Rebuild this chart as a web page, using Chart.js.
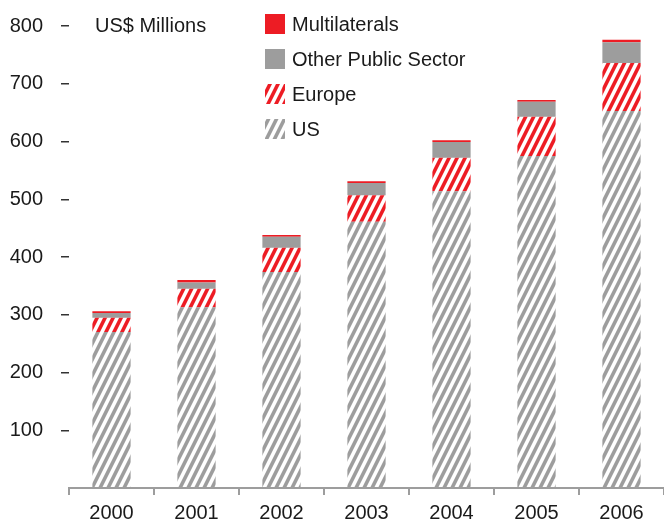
<!DOCTYPE html>
<html>
<head>
<meta charset="utf-8">
<script src="https://cdn.jsdelivr.net/npm/chart.js@4/dist/chart.umd.min.js"></script>
<style>
  html, body { margin: 0; padding: 0; background: #fff; overflow: hidden; }
  #wrap { width: 664px; height: 530px; }
</style>
</head>
<body>
<div id="wrap"><canvas id="chart" width="664" height="530"></canvas></div>
<script>
const years = ['2000', '2001', '2002', '2003', '2004', '2005', '2006'];
const us = [270, 313, 374, 461, 514, 575, 653];
const europe = [25, 32, 42, 46, 58, 68, 83];
const otherPublic = [8, 11, 19, 21, 27, 26, 36];
const multilaterals = [3, 4, 3, 3, 3, 3, 4];
const yTicks = [0, 100, 200, 300, 400, 500, 600, 700, 800];

const RED = '#ed1c24';
const GREY = '#9d9d9d';
const INK = '#1a1a1a';
const FONT = '"Liberation Sans", Arial, sans-serif';

// diagonal stripe fill, rising to the right
function hatch(color) {
  const c = document.createElement('canvas');
  c.width = 8;
  c.height = 16;
  const g = c.getContext('2d');
  g.strokeStyle = color;
  g.lineWidth = 3.6;
  for (let k = -1; k <= 2; k++) {
    g.beginPath();
    g.moveTo(k * 8 - 4, 24);
    g.lineTo(k * 8 + 12, -8);
    g.stroke();
  }
  return g.createPattern(c, 'repeat');
}

Chart.defaults.font.family = FONT;
Chart.defaults.font.size = 20;
Chart.defaults.color = INK;

// unit label and legend drawn inside the plot area
const overlay = {
  id: 'overlay',
  afterDraw(chart) {
    const c = chart.ctx;
    const area = chart.chartArea;
    const y = chart.scales.y;
    c.save();
    c.font = '20px ' + FONT;
    c.fillStyle = INK;
    c.textBaseline = 'middle';
    c.textAlign = 'left';
    c.fillText('US$ Millions', area.left + 26, y.getPixelForValue(800));

    const sets = chart.data.datasets.slice().reverse();
    sets.forEach((ds, i) => {
      const cy = 24 + i * 35;
      c.fillStyle = ds.backgroundColor;
      c.fillRect(265, cy - 10, 20, 20);
      c.fillStyle = INK;
      c.fillText(ds.label, 292, cy + 1);
    });
    c.restore();
  }
};

new Chart(document.getElementById('chart'), {
  type: 'bar',
  data: {
    labels: years,
    datasets: [
      { label: 'US', data: us, backgroundColor: hatch(GREY) },
      { label: 'Europe', data: europe, backgroundColor: hatch(RED) },
      { label: 'Other Public Sector', data: otherPublic, backgroundColor: GREY },
      { label: 'Multilaterals', data: multilaterals, backgroundColor: RED }
    ]
  },
  options: {
    responsive: false,
    animation: false,
    layout: { padding: { top: 26, left: 0, right: 0, bottom: 0 } },
    datasets: {
      bar: { barPercentage: 0.45, categoryPercentage: 1, borderWidth: 0 }
    },
    plugins: {
      legend: { display: false },
      tooltip: { enabled: false }
    },
    scales: {
      x: {
        stacked: true,
        afterFit(scale) { scale.height = 42; },
        border: { display: true, color: GREY, width: 2 },
        grid: {
          offset: true,
          drawOnChartArea: false,
          tickLength: 7,
          color: GREY,
          lineWidth: 2
        },
        ticks: { padding: 6, color: INK }
      },
      y: {
        stacked: true,
        min: 0,
        max: 800,
        afterFit(scale) {
          scale.width = 69;
          // label overhang is covered by the layout padding
          scale.paddingTop = 0;
          scale.paddingBottom = 0;
        },
        afterBuildTicks(scale) { scale.ticks = yTicks.map(v => ({ value: v })); },
        border: { display: false },
        grid: {
          drawOnChartArea: false,
          tickLength: 8,
          lineWidth: 1.5,
          tickColor: ctx => (ctx.tick && ctx.tick.value === 0 ? 'rgba(0,0,0,0)' : '#333')
        },
        ticks: {
          padding: 18,
          color: INK,
          callback: v => (v === 0 ? '' : v)
        }
      }
    }
  },
  plugins: [overlay]
});
</script>
</body>
</html>
